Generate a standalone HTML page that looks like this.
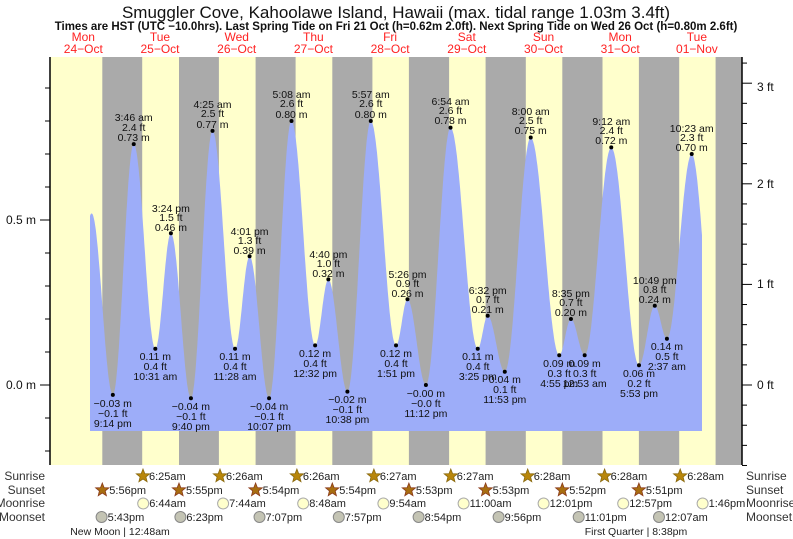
<!DOCTYPE html>
<html><head><meta charset="utf-8"><style>
html,body{margin:0;padding:0;background:#fff;}
svg{display:block;font-family:"Liberation Sans",sans-serif;}
.tl{font-size:10.5px;fill:#111;text-anchor:middle;}
.r{font-size:12px;fill:#333;}
.b{font-size:11px;fill:#222;}
</style></head><body>
<svg id="s" width="793" height="539" viewBox="0 0 793 539" xmlns="http://www.w3.org/2000/svg">
<rect x="50" y="57" width="692" height="408" fill="#ffffcc"/>
<g fill="#aaaaaa">
<rect x="102.3" y="57" width="39.9" height="408"/>
<rect x="179" y="57" width="39.9" height="408"/>
<rect x="255.6" y="57" width="40" height="408"/>
<rect x="332.3" y="57" width="40.1" height="408"/>
<rect x="408.9" y="57" width="40.2" height="408"/>
<rect x="485.6" y="57" width="40.2" height="408"/>
<rect x="562.3" y="57" width="40.2" height="408"/>
<rect x="638.9" y="57" width="40.3" height="408"/>
<rect x="715.6" y="57" width="26.4" height="408"/>
</g>
<path id="tide" fill="#9dadf9" d=""/>
<g id="ticks" stroke="#000" stroke-width="1"></g>
<line x1="50" y1="57" x2="50" y2="465" stroke="#000" stroke-width="1.5"/>
<line x1="742" y1="57" x2="742" y2="465" stroke="#000" stroke-width="1.5"/>

<text x="396" y="18" font-size="17" text-anchor="middle" fill="#111">Smuggler Cove, Kahoolawe Island, Hawaii (max. tidal range 1.03m 3.4ft)</text>
<text x="396" y="30" font-size="11.5" font-weight="bold" text-anchor="middle" fill="#111">Times are HST (UTC −10.0hrs). Last Spring Tide on Fri 21 Oct (h=0.62m 2.0ft). Next Spring Tide on Wed 26 Oct (h=0.80m 2.6ft)</text>
<g font-size="12" fill="#ff2222" text-anchor="middle">
<text x="83.3" y="41">Mon</text><text x="83.3" y="53">24−Oct</text>
<text x="160" y="41">Tue</text><text x="160" y="53">25−Oct</text>
<text x="236.7" y="41">Wed</text><text x="236.7" y="53">26−Oct</text>
<text x="313.4" y="41">Thu</text><text x="313.4" y="53">27−Oct</text>
<text x="390.1" y="41">Fri</text><text x="390.1" y="53">28−Oct</text>
<text x="466.8" y="41">Sat</text><text x="466.8" y="53">29−Oct</text>
<text x="543.5" y="41">Sun</text><text x="543.5" y="53">30−Oct</text>
<text x="620.2" y="41">Mon</text><text x="620.2" y="53">31−Oct</text>
<text x="696.9" y="41">Tue</text><text x="696.9" y="53">01−Nov</text>
</g>
<g font-size="12" fill="#111">
<text x="36" y="224" text-anchor="end">0.5 m</text>
<text x="36" y="389" text-anchor="end">0.0 m</text>
<text x="757" y="389">0 ft</text>
<text x="757" y="288">1 ft</text>
<text x="757" y="188">2 ft</text>
<text x="757" y="91">3 ft</text>
</g>

<g id="dots" fill="#000"></g>
<g class="tl">
<text x="112.8" y="407">−0.03 m</text><text x="112.8" y="417">−0.1 ft</text><text x="112.8" y="427">9:14 pm</text>
<text x="133.7" y="121">3:46 am</text><text x="133.7" y="131">2.4 ft</text><text x="133.7" y="141">0.73 m</text>
<text x="155.3" y="360">0.11 m</text><text x="155.3" y="370">0.4 ft</text><text x="155.3" y="380">10:31 am</text>
<text x="170.9" y="212">3:24 pm</text><text x="170.9" y="221">1.5 ft</text><text x="170.9" y="231">0.46 m</text>
<text x="190.9" y="410">−0.04 m</text><text x="190.9" y="420">−0.1 ft</text><text x="190.9" y="430">9:40 pm</text>
<text x="212.5" y="108">4:25 am</text><text x="212.5" y="117">2.5 ft</text><text x="212.5" y="128">0.77 m</text>
<text x="235" y="360">0.11 m</text><text x="235" y="370">0.4 ft</text><text x="235" y="380">11:28 am</text>
<text x="249.6" y="235">4:01 pm</text><text x="249.6" y="244">1.3 ft</text><text x="249.6" y="254">0.39 m</text>
<text x="269.1" y="410">−0.04 m</text><text x="269.1" y="420">−0.1 ft</text><text x="269.1" y="430">10:07 pm</text>
<text x="291.5" y="98">5:08 am</text><text x="291.5" y="107">2.6 ft</text><text x="291.5" y="118">0.80 m</text>
<text x="315.1" y="357">0.12 m</text><text x="315.1" y="367">0.4 ft</text><text x="315.1" y="377">12:32 pm</text>
<text x="328.4" y="258">4:40 pm</text><text x="328.4" y="267">1.0 ft</text><text x="328.4" y="277">0.32 m</text>
<text x="347.4" y="403">−0.02 m</text><text x="347.4" y="413">−0.1 ft</text><text x="347.4" y="423">10:38 pm</text>
<text x="370.8" y="98">5:57 am</text><text x="370.8" y="107">2.6 ft</text><text x="370.8" y="118">0.80 m</text>
<text x="396" y="357">0.12 m</text><text x="396" y="367">0.4 ft</text><text x="396" y="377">1:51 pm</text>
<text x="407.5" y="278">5:26 pm</text><text x="407.5" y="287">0.9 ft</text><text x="407.5" y="297">0.26 m</text>
<text x="425.9" y="397">−0.00 m</text><text x="425.9" y="407">−0.0 ft</text><text x="425.9" y="417">11:12 pm</text>
<text x="450.5" y="105">6:54 am</text><text x="450.5" y="114">2.6 ft</text><text x="450.5" y="124">0.78 m</text>
<text x="477.8" y="360">0.11 m</text><text x="477.8" y="370">0.4 ft</text><text x="477.8" y="380">3:25 pm</text>
<text x="487.7" y="294">6:32 pm</text><text x="487.7" y="303">0.7 ft</text><text x="487.7" y="313">0.21 m</text>
<text x="504.8" y="383">0.04 m</text><text x="504.8" y="393">0.1 ft</text><text x="504.8" y="403">11:53 pm</text>
<text x="530.7" y="115">8:00 am</text><text x="530.7" y="124">2.5 ft</text><text x="530.7" y="134">0.75 m</text>
<text x="559.2" y="367">0.09 m</text><text x="559.2" y="377">0.3 ft</text><text x="559.2" y="387">4:55 pm</text>
<text x="570.9" y="297">8:35 pm</text><text x="570.9" y="306">0.7 ft</text><text x="570.9" y="316">0.20 m</text>
<text x="584.7" y="367">0.09 m</text><text x="584.7" y="377">0.3 ft</text><text x="584.7" y="387">12:53 am</text>
<text x="611.3" y="125">9:12 am</text><text x="611.3" y="134">2.4 ft</text><text x="611.3" y="144">0.72 m</text>
<text x="639" y="377">0.06 m</text><text x="639" y="387">0.2 ft</text><text x="639" y="397">5:53 pm</text>
<text x="654.8" y="284">10:49 pm</text><text x="654.8" y="293">0.8 ft</text><text x="654.8" y="303">0.24 m</text>
<text x="666.9" y="350">0.14 m</text><text x="666.9" y="360">0.5 ft</text><text x="666.9" y="370">2:37 am</text>
<text x="691.7" y="132">10:23 am</text><text x="691.7" y="141">2.3 ft</text><text x="691.7" y="151">0.70 m</text>
</g>

<g class="r">
<text x="45" y="480" text-anchor="end">Sunrise</text>
<text x="45" y="494" text-anchor="end">Sunset</text>
<text x="45" y="507" text-anchor="end">Moonrise</text>
<text x="45" y="521" text-anchor="end">Moonset</text>
<text x="746" y="480">Sunrise</text>
<text x="746" y="494">Sunset</text>
<text x="746" y="507">Moonrise</text>
<text x="746" y="521">Moonset</text>
</g>
<g id="icons"></g>
<g class="b">
<text x="149" y="480">6:25am</text><text x="226" y="480">6:26am</text><text x="302.9" y="480">6:26am</text><text x="379.9" y="480">6:27am</text><text x="456.8" y="480">6:27am</text><text x="533.7" y="480">6:28am</text><text x="610.6" y="480">6:28am</text><text x="687.2" y="480">6:28am</text>
<text x="109.3" y="494">5:56pm</text><text x="186" y="494">5:55pm</text><text x="262.6" y="494">5:54pm</text><text x="339.3" y="494">5:54pm</text><text x="415.9" y="494">5:53pm</text><text x="492.6" y="494">5:53pm</text><text x="569.3" y="494">5:52pm</text><text x="645.9" y="494">5:51pm</text>
<text x="149.2" y="507">6:44am</text><text x="229.1" y="507">7:44am</text><text x="309.2" y="507">8:48am</text><text x="389.4" y="507">9:54am</text><text x="469.6" y="507">11:00am</text><text x="549.6" y="507">12:01pm</text><text x="629.2" y="507">12:57pm</text><text x="708.6" y="507">1:46pm</text>
<text x="107.6" y="521">5:43pm</text><text x="186.4" y="521">6:23pm</text><text x="265.5" y="521">7:07pm</text><text x="344.8" y="521">7:57pm</text><text x="424.6" y="521">8:54pm</text><text x="504.6" y="521">9:56pm</text><text x="584.7" y="521">11:01pm</text><text x="665" y="521">12:07am</text>
<text x="120" y="535" text-anchor="middle" font-size="10.5">New Moon | 12:48am</text>
<text x="636" y="535" text-anchor="middle" font-size="10.5">First Quarter | 8:38pm</text>
</g>
</svg>
<script>
(function(){
var X=function(t){return 45+3.1956*t;}, Y=function(h){return 385-330*h;};
var E=[[8.5,0.1],[14.6,0.52],[21.23,-0.03],[27.77,0.73],[34.52,0.11],[39.4,0.46],[45.67,-0.04],[52.42,0.77],[59.47,0.11],[64.02,0.39],[70.12,-0.04],[77.13,0.80],[84.53,0.12],[88.67,0.32],[94.63,-0.02],[101.95,0.80],[109.85,0.12],[113.43,0.26],[119.2,0.0],[126.9,0.78],[135.42,0.11],[138.53,0.21],[143.88,0.04],[152,0.75],[160.92,0.09],[164.58,0.20],[168.88,0.09],[177.2,0.72],[185.88,0.06],[190.82,0.24],[194.62,0.14],[202.38,0.70],[209.5,0.12]];
function h(t){for(var i=0;i<E.length-1;i++){if(t>=E[i][0]&&t<=E[i+1][0]){var a=E[i],b=E[i+1],f=(t-a[0])/(b[0]-a[0]);return a[1]+(b[1]-a[1])*(1-Math.cos(Math.PI*f))/2;}}return 0;}
var t0=(90-45)/3.1956,t1=(702-45)/3.1956,d="M90,431";
for(var t=t0;t<=t1;t+=0.2){d+="L"+X(t).toFixed(1)+","+Y(h(t)).toFixed(1);}
d+="L"+X(t1).toFixed(1)+","+Y(h(t1)).toFixed(1)+"L702,431Z";
document.getElementById("tide").setAttribute("d",d);
var ns="http://www.w3.org/2000/svg";
function el(p,n,a){var e=document.createElementNS(ns,n);for(var k in a)e.setAttribute(k,a[k]);p.appendChild(e);return e;}
var dots=document.getElementById("dots");
for(var i=2;i<E.length-1;i++){el(dots,"circle",{cx:X(E[i][0]),cy:Y(E[i][1]),r:2});}
var tk=document.getElementById("ticks");
for(var m=-0.2;m<=0.99;m+=0.1){var y=Y(m);var big=Math.abs(m)<0.01||Math.abs(m-0.5)<0.01;el(tk,"line",{x1:big?40:45,x2:50,y1:y,y2:y});}
for(var f=-0.8;f<=3.3;f+=0.2){var y=385-100.6*f;if(y<57)continue;var big=Math.abs(f-Math.round(f))<0.01;el(tk,"line",{x1:742,x2:big?752:747,y1:y,y2:y});}
var ic=document.getElementById("icons");
function star(cx,cy,fill,st){var p="";for(var k=0;k<10;k++){var r=k%2?3:7,a=-Math.PI/2+k*Math.PI/5;p+=(cx+r*Math.cos(a)).toFixed(1)+","+(cy+r*Math.sin(a)).toFixed(1)+" ";}el(ic,"polygon",{points:p,fill:fill,stroke:st,"stroke-width":0.8});}
[143,220,296.9,373.9,450.8,527.7,604.6,680.2].forEach(function(x){star(x,476,"#b8860b","#8a6a10");});
[102.3,179,255.6,332.3,408.9,485.6,562.3,638.9].forEach(function(x){star(x,490,"#a86e10","#8b3a1a");});
[143.2,223.1,303.2,383.4,463.6,543.6,623.2,702.6].forEach(function(x){el(ic,"circle",{cx:x,cy:503.5,r:5.5,fill:"#ffffcc",stroke:"#aaa"});});
[101.6,180.4,259.5,338.8,418.6,498.6,578.7,659].forEach(function(x){el(ic,"circle",{cx:x,cy:517,r:5.5,fill:"#c4c4b4",stroke:"#888"});});
})();
</script>
</body></html>
